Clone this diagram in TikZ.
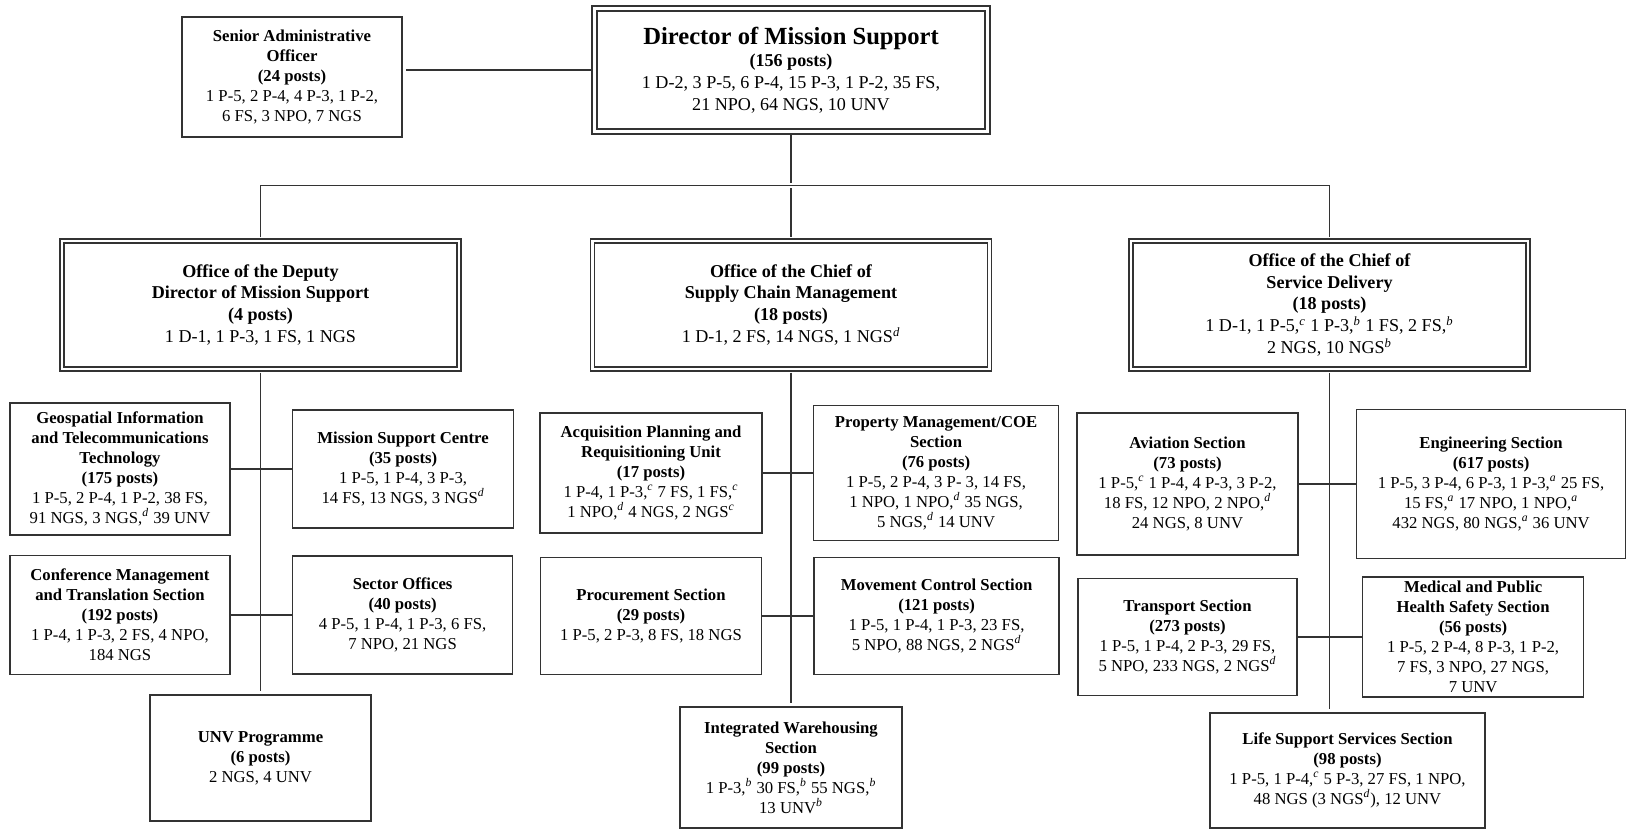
\documentclass[tikz,border=0pt]{standalone}
\usepackage{fontspec}
\setmainfont{Liberation Serif}
\usetikzlibrary{positioning}
\newcommand{\fnm}[1]{\textsuperscript{\itshape #1}}

\begin{document}
\begin{tikzpicture}[
  section/.style={rectangle, draw=black!80, line width=0.9pt, align=center,
                  inner sep=2pt, font=\fontsize{9.5}{11.4}\selectfont},
  office/.style={section, double, double distance=1.5pt,
                 minimum width=7.94cm, minimum height=2.56cm,
                 font=\fontsize{10.3}{12.5}\selectfont},
  link/.style={draw=black!80, line width=0.8pt},
  olink/.style={link, shorten <=1.6pt, shorten >=1.6pt}
]
\useasboundingbox (0,0) rectangle (32.54,-16.58);

% top level
\node[office, line width=1.2pt, minimum width=7.86cm, minimum height=2.46cm] (dms) at (15.82,-1.40)
  {{\fontsize{14}{17}\selectfont\textbf{Director of Mission Support}}\\\textbf{(156 posts)}\\
   1 D-2, 3 P-5, 6 P-4, 15 P-3, 1 P-2, 35 FS,\\21 NPO, 64 NGS, 10 UNV};
\node[section, minimum width=4.4cm, minimum height=2.4cm] (sao) at (5.84,-1.54)
  {\textbf{Senior Administrative}\\\textbf{Officer}\\\textbf{(24 posts)}\\
   1 P-5, 2 P-4, 4 P-3, 1 P-2,\\6 FS, 3 NPO, 7 NGS};

% offices
\node[office] (dep) at (5.21,-6.10)
  {\textbf{Office of the Deputy}\\\textbf{Director of Mission Support}\\\textbf{(4 posts)}\\
   1 D-1, 1 P-3, 1 FS, 1 NGS};
\node[office] (scm) at (15.82,-6.10)
  {\textbf{Office of the Chief of}\\\textbf{Supply Chain Management}\\\textbf{(18 posts)}\\
   1 D-1, 2 FS, 14 NGS, 1 NGS\fnm{d}};
\node[office] (sdl) at (26.59,-6.10)
  {\textbf{Office of the Chief of}\\\textbf{Service Delivery}\\\textbf{(18 posts)}\\
   1 D-1, 1 P-5,\fnm{c} 1 P-3,\fnm{b} 1 FS, 2 FS,\fnm{b}\\2 NGS, 10 NGS\fnm{b}};

% deputy director
\node[section, minimum width=4.4cm, minimum height=2.64cm] (git) at (2.40,-9.38)
  {\textbf{Geospatial Information}\\\textbf{and Telecommunications}\\\textbf{Technology}\\\textbf{(175 posts)}\\
   1 P-5, 2 P-4, 1 P-2, 38 FS,\\91 NGS, 3 NGS,\fnm{d} 39 UNV};
\node[section, minimum width=4.42cm, minimum height=2.36cm, right=1.22cm of git] (msc)
  {\textbf{Mission Support Centre}\\\textbf{(35 posts)}\\
   1 P-5, 1 P-4, 3 P-3,\\14 FS, 13 NGS, 3 NGS\fnm{d}};
\node[section, minimum width=4.4cm, minimum height=2.38cm, below=0.38cm of git] (cmt)
  {\textbf{Conference Management}\\\textbf{and Translation Section}\\\textbf{(192 posts)}\\
   1 P-4, 1 P-3, 2 FS, 4 NPO,\\184 NGS};
\node[section, minimum width=4.4cm, minimum height=2.36cm, right=1.22cm of cmt] (sec)
  {\textbf{Sector Offices}\\\textbf{(40 posts)}\\
   4 P-5, 1 P-4, 1 P-3, 6 FS,\\7 NPO, 21 NGS};
\node[section, minimum width=4.42cm, minimum height=2.52cm] (unv) at (5.21,-15.16)
  {\textbf{UNV Programme}\\\textbf{(6 posts)}\\2 NGS, 4 UNV};

% supply chain
\node[section, minimum width=4.44cm, minimum height=2.4cm] (apr) at (13.02,-9.46)
  {\textbf{Acquisition Planning and}\\\textbf{Requisitioning Unit}\\\textbf{(17 posts)}\\
   1 P-4, 1 P-3,\fnm{c} 7 FS, 1 FS,\fnm{c}\\1 NPO,\fnm{d} 4 NGS, 2 NGS\fnm{c}};
\node[section, minimum width=4.9cm, minimum height=2.7cm, right=1.0cm of apr] (pmc)
  {\textbf{Property Management/COE}\\\textbf{Section}\\\textbf{(76 posts)}\\
   1 P-5, 2 P-4, 3 P- 3, 14 FS,\\1 NPO, 1 NPO,\fnm{d} 35 NGS,\\5 NGS,\fnm{d} 14 UNV};
\node[section, minimum width=4.42cm, minimum height=2.34cm, below=0.46cm of apr] (pro)
  {\textbf{Procurement Section}\\\textbf{(29 posts)}\\1 P-5, 2 P-3, 8 FS, 18 NGS};
\node[section, minimum width=4.9cm, minimum height=2.34cm, right=1.02cm of pro] (mov)
  {\textbf{Movement Control Section}\\\textbf{(121 posts)}\\
   1 P-5, 1 P-4, 1 P-3, 23 FS,\\5 NPO, 88 NGS, 2 NGS\fnm{d}};
\node[section, minimum width=4.44cm, minimum height=2.42cm] (iws) at (15.82,-15.35)
  {\textbf{Integrated Warehousing}\\\textbf{Section}\\\textbf{(99 posts)}\\
   1 P-3,\fnm{b} 30 FS,\fnm{b} 55 NGS,\fnm{b}\\13 UNV\fnm{b}};

% service delivery
\node[section, minimum width=4.42cm, minimum height=2.84cm] (avi) at (23.75,-9.68)
  {\textbf{Aviation Section}\\\textbf{(73 posts)}\\
   1 P-5,\fnm{c} 1 P-4, 4 P-3, 3 P-2,\\18 FS, 12 NPO, 2 NPO,\fnm{d}\\24 NGS, 8 UNV};
\node[section, minimum width=5.38cm, minimum height=2.98cm, right=1.14cm of avi] (eng)
  {\textbf{Engineering Section}\\\textbf{(617 posts)}\\
   1 P-5, 3 P-4, 6 P-3, 1 P-3,\fnm{a} 25 FS,\\15 FS,\fnm{a} 17 NPO, 1 NPO,\fnm{a}\\432 NGS, 80 NGS,\fnm{a} 36 UNV};
\node[section, minimum width=4.38cm, minimum height=2.34cm, below=0.44cm of avi] (trn)
  {\textbf{Transport Section}\\\textbf{(273 posts)}\\
   1 P-5, 1 P-4, 2 P-3, 29 FS,\\5 NPO, 233 NGS, 2 NGS\fnm{d}};
\node[section, minimum width=4.42cm, minimum height=2.4cm, right=1.28cm of trn] (med)
  {\textbf{Medical and Public}\\\textbf{Health Safety Section}\\\textbf{(56 posts)}\\
   1 P-5, 2 P-4, 8 P-3, 1 P-2,\\7 FS, 3 NPO, 27 NGS,\\7 UNV};
\node[section, minimum width=5.5cm, minimum height=2.3cm] (lss) at (26.95,-15.41)
  {\textbf{Life Support Services Section}\\\textbf{(98 posts)}\\
   1 P-5, 1 P-4,\fnm{c} 5 P-3, 27 FS, 1 NPO,\\48 NGS (3 NGS\fnm{d}), 12 UNV};

% connectors
\coordinate[below=1.06cm of dms.south] (bus);
\draw[olink] (dms) -- (dms -| sao.east);
\draw[olink] (dms) -- (bus);
\draw[olink] (dep) |- (bus) -| (sdl);
\draw[olink] (bus) -- (scm);
\draw[olink] (dep) -- (unv);
\draw[olink] (scm) -- (iws);
\draw[olink] (sdl.south) -- (sdl.south |- lss.north);
\draw[link] (git) -- (msc);
\draw[link] (cmt) -- (sec);
\draw[link] (apr) -- (pmc);
\draw[link] (pro) -- (mov);
\draw[link] (avi) -- (eng);
\draw[link] (trn) -- (med);
\end{tikzpicture}
\end{document}
